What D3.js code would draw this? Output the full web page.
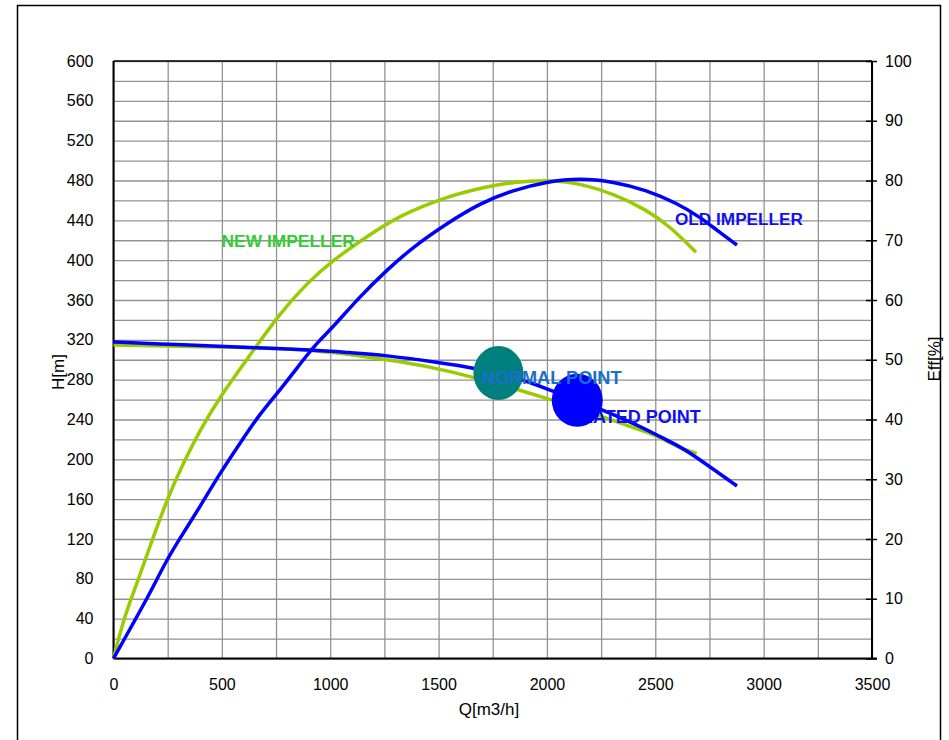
<!DOCTYPE html>
<html>
<head>
<meta charset="utf-8">
<script src="https://cdn.jsdelivr.net/npm/d3@7"></script>
<style>
  body { margin: 0; background: #fff; }
  svg text { font-family: "Liberation Sans", Arial, sans-serif; }
</style>
</head>
<body>
<div id="chart"></div>
<script>
// axis ticks
const qTicks = [0, 500, 1000, 1500, 2000, 2500, 3000, 3500];
const hTicks = [0, 40, 80, 120, 160, 200, 240, 280, 320, 360, 400, 440, 480, 520, 560, 600];
const effTicks = [0, 10, 20, 30, 40, 50, 60, 70, 80, 90, 100];

// head curves, H[m] vs Q[m3/h]
const headOld = [[0,317.8],[215,315.8],[430,314.1],[645,312.1],[922,309.8],[1091,307.1],[1245,304.8],
  [1507,297],[1660,292],[1884,281],[2029,268],[2245,251],[2430,233],[2507,224.4],[2614,212.7],[2675,204.4],[2877,173.2]];
const headNew = [[0,314.8],[399,313.1],[861,311.5],[1137,304],[1322,298],[1507,291.4],[1968,264.6],
  [2430,229.5],[2507,224],[2614,211],[2691,206]];

// efficiency curves, Eff[%] vs Q[m3/h]
const effNew = [[0,0],[45,6.4],[91,10.9],[168,18.7],[245,26.5],[322,32.7],[399,38.2],[491,43.8],[615,50],
  [768,57.8],[892,62.8],[1014,66.7],[1168,70.6],[1322,74.2],[1538,77.3],[1691,78.7],[1845,79.8],[2029,80.1],
  [2153,79.5],[2306,77.8],[2460,75.1],[2568,72.3],[2688,68]];
const effOld = [[0,0],[91,5.9],[168,10.9],[245,16.5],[322,21],[399,25.4],[491,31],[583,36],[676,41],[768,44.9],
  [876,50],[938,52.8],[1014,55.5],[1137,60.6],[1261,65],[1383,68.9],[1538,72.8],[1691,76.2],[1845,78.4],
  [1999,79.8],[2153,80.4],[2306,79.8],[2460,78.4],[2599,76.2],[2706,73.9],[2783,71.7],[2877,69.2]];

// operating points [Q, H]
const normalPoint = [1776, 286.7];
const ratedPoint = [2140, 259.3];

const W = 949, H = 740;
const plot = {left: 113.5, right: 872, top: 61, bottom: 658.5};

const svg = d3.select("#chart").append("svg").attr("width", W).attr("height", H);

svg.append("rect").attr("x", 17.5).attr("y", 5.5).attr("width", 923).attr("height", 760)
  .attr("fill", "none").attr("stroke", "#000").attr("stroke-width", 1.5);

const x = d3.scaleLinear().domain([0, 3500]).range([plot.left, plot.right]);
const y = d3.scaleLinear().domain([0, 600]).range([plot.bottom, plot.top]);
const yE = d3.scaleLinear().domain([0, 100]).range([plot.bottom, plot.top]);
const pw = plot.right - plot.left, ph = plot.bottom - plot.top;

// grid
svg.append("g").attr("transform", `translate(${plot.left},0)`)
  .call(d3.axisLeft(y).tickValues(d3.range(0, 601, 20)).tickSize(-pw).tickFormat(""))
  .call(g => g.select(".domain").remove())
  .selectAll("line").attr("stroke", "#929292").attr("stroke-width", 1.3);
svg.append("g").attr("transform", `translate(0,${plot.bottom})`)
  .call(d3.axisBottom(x).tickValues(d3.range(0, 3501, 250)).tickSize(-ph).tickFormat(""))
  .call(g => g.select(".domain").remove())
  .selectAll("line").attr("stroke", "#929292").attr("stroke-width", 1.3);

// frame
svg.append("line").attr("x1", plot.left).attr("x2", plot.right).attr("y1", plot.top).attr("y2", plot.top)
  .attr("stroke", "#000").attr("stroke-width", 1.5);
svg.append("line").attr("x1", plot.left).attr("x2", plot.left).attr("y1", plot.top).attr("y2", plot.bottom)
  .attr("stroke", "#000").attr("stroke-width", 2);
svg.append("line").attr("x1", plot.left).attr("x2", plot.right + 5).attr("y1", plot.bottom).attr("y2", plot.bottom)
  .attr("stroke", "#000").attr("stroke-width", 2);
svg.append("line").attr("x1", plot.right).attr("x2", plot.right).attr("y1", plot.top).attr("y2", plot.bottom)
  .attr("stroke", "#000").attr("stroke-width", 2);

// axes labels
const left = svg.append("g").attr("transform", `translate(${plot.left},0)`)
  .call(d3.axisLeft(y).tickValues(hTicks).tickSize(0).tickPadding(20));
const bottom = svg.append("g").attr("transform", `translate(0,${plot.bottom})`)
  .call(d3.axisBottom(x).tickValues(qTicks).tickSize(0).tickPadding(20.5).tickFormat(d3.format("d")));
const right = svg.append("g").attr("transform", `translate(${plot.right},0)`)
  .call(d3.axisRight(yE).tickValues(effTicks).tickSize(5).tickPadding(8));
right.selectAll("line").attr("x1", -6).attr("stroke", "#000").attr("stroke-width", 1.5);
[left, bottom, right].forEach(g => {
  g.select(".domain").remove();
  g.selectAll("text").attr("font-size", 16).attr("fill", "#000")
    .style("font-family", '"Liberation Sans", Arial, sans-serif');
});

svg.append("text").attr("x", 489).attr("y", 715).attr("text-anchor", "middle")
  .attr("font-size", 17).text("Q[m3/h]");
svg.append("text").attr("transform", "translate(64,372) rotate(-90)").attr("text-anchor", "middle")
  .attr("font-size", 17).text("H[m]");
svg.append("text").attr("transform", "translate(940,359) rotate(-90)").attr("text-anchor", "middle")
  .attr("font-size", 17).text("Eff[%]");

// curves
const lineH = d3.line().x(d => x(d[0])).y(d => y(d[1])).curve(d3.curveBasis);
const lineE = d3.line().x(d => x(d[0])).y(d => yE(d[1])).curve(d3.curveBasis);
const green = "#99cc00", blue = "#0000ff";

svg.append("path").attr("d", lineE(effNew)).attr("fill", "none").attr("stroke", green).attr("stroke-width", 3.5);
svg.append("path").attr("d", lineH(headNew)).attr("fill", "none").attr("stroke", green).attr("stroke-width", 3.5);
svg.append("path").attr("d", lineE(effOld)).attr("fill", "none").attr("stroke", blue).attr("stroke-width", 3.5);
svg.append("path").attr("d", lineH(headOld)).attr("fill", "none").attr("stroke", blue).attr("stroke-width", 3.5);

// operating points and labels
const lbl = (t, px, py, col, fs) => svg.append("text").attr("x", px).attr("y", py)
  .attr("font-size", fs).attr("font-weight", "bold").attr("fill", col).text(t);

svg.append("ellipse").attr("cx", x(normalPoint[0])).attr("cy", y(normalPoint[1]))
  .attr("rx", 25).attr("ry", 27).attr("fill", "#007f7f");
lbl("RATED POINT", 580, 423, "#1010ee", 18);
svg.append("ellipse").attr("cx", x(ratedPoint[0])).attr("cy", y(ratedPoint[1]))
  .attr("rx", 25.5).attr("ry", 26.5).attr("fill", blue);
lbl("NORMAL POINT", 481.5, 383.5, "#1a6fcc", 18.2);
lbl("NEW IMPELLER", 221.5, 247, "#33cc33", 17.4);
lbl("OLD IMPELLER", 675, 224.5, "#1010ee", 17.2);
</script>
</body>
</html>
